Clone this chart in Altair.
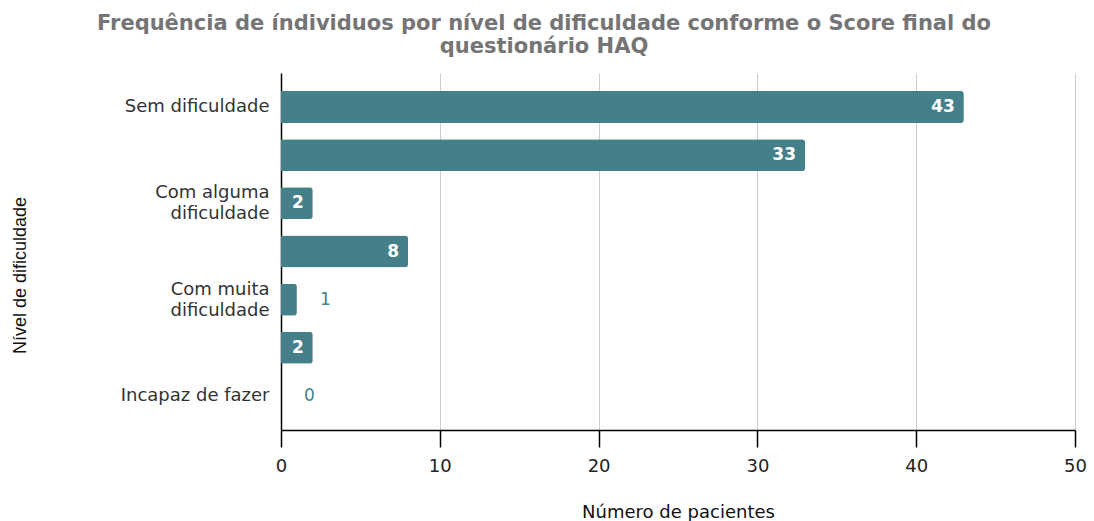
import altair as alt
import pandas as pd

categories = ["Sem dificuldade", " ", "Com alguma\ndificuldade", "  ",
              "Com muita\ndificuldade", "   ", "Incapaz de fazer"]
values = [43, 33, 2, 8, 1, 2, 0]
x_ticks = [0, 10, 20, 30, 40, 50]

df = pd.DataFrame({"cat": categories, "value": values})

FONT = "DejaVu Sans"
BAR = "#457f8a"

y_enc = alt.Y("cat:N", sort=categories,
              scale=alt.Scale(paddingInner=0.336, paddingOuter=0.373),
              axis=alt.Axis(title="Nível de dificuldade", labelExpr="split(datum.label, '\\n')",
                            ticks=False, domainColor="#000000", domainWidth=1.5,
                            labelFont=FONT, labelFontSize=18, labelColor="#333333",
                            labelPadding=12, labelLineHeight=21,
                            labelOffset={"condition": {"test": "indexof(datum.value, '\\n') >= 0",
                                                       "value": -10},
                                         "value": 0},
                            titleFont="Liberation Sans", titleFontSize=18, titleFontWeight="normal",
                            titleColor="#111111", titleX=-261, titleY=202, titleAngle=270,
                            titleAlign="center", titleBaseline="middle"))

x_scale = alt.Scale(domain=[0, 50], nice=False)

bars = alt.Chart(df).mark_bar(color=BAR, cornerRadiusEnd=3).encode(
    x=alt.X("value:Q", scale=x_scale,
            axis=alt.Axis(title="Número de pacientes", values=x_ticks, grid=True,
                          gridColor="#cccccc", domainColor="#000000", domainWidth=1.5,
                          tickColor="#000000", tickSize=17, tickWidth=1.5,
                          labelFont=FONT, labelFontSize=18, labelColor="#222222",
                          labelPadding=10, labelFlush=False,
                          titleFont=FONT, titleFontSize=18, titleFontWeight="normal",
                          titleColor="#111111", titleY=82, titleBaseline="middle")),
    y=y_enc,
)

inside = alt.Chart(df).transform_filter("datum.value >= 2").mark_text(
    align="right", baseline="middle", dx=-9, color="white", font=FONT, fontSize=17,
    fontWeight="bold"
).encode(x=alt.X("value:Q", scale=x_scale), y=alt.Y("cat:N", sort=categories),
         text="value:Q")

outside = alt.Chart(df).transform_filter("datum.value < 2").mark_text(
    align="left", baseline="middle", dx=23, color=BAR, font=FONT, fontSize=17
).encode(x=alt.X("value:Q", scale=x_scale), y=alt.Y("cat:N", sort=categories),
         text="value:Q")

chart = alt.layer(bars, inside, outside).properties(
    width=794, height=357,
    title=alt.TitleParams(
        text=["Frequência de índividuos por nível de dificuldade conforme o Score final do",
              "questionário HAQ"],
        font=FONT, fontSize=21, fontWeight="bold", color="#757575",
        anchor="middle", lineHeight=23, offset=16, frame="group", dx=-134, dy=0),
    autosize=alt.AutoSizeParams(type="none"),
    padding={"left": 281, "top": 73, "right": 19, "bottom": 91},
).configure_view(stroke=None).configure_title(baseline="top")

chart.save("out.html", embed_options={"renderer": "svg", "actions": False})
